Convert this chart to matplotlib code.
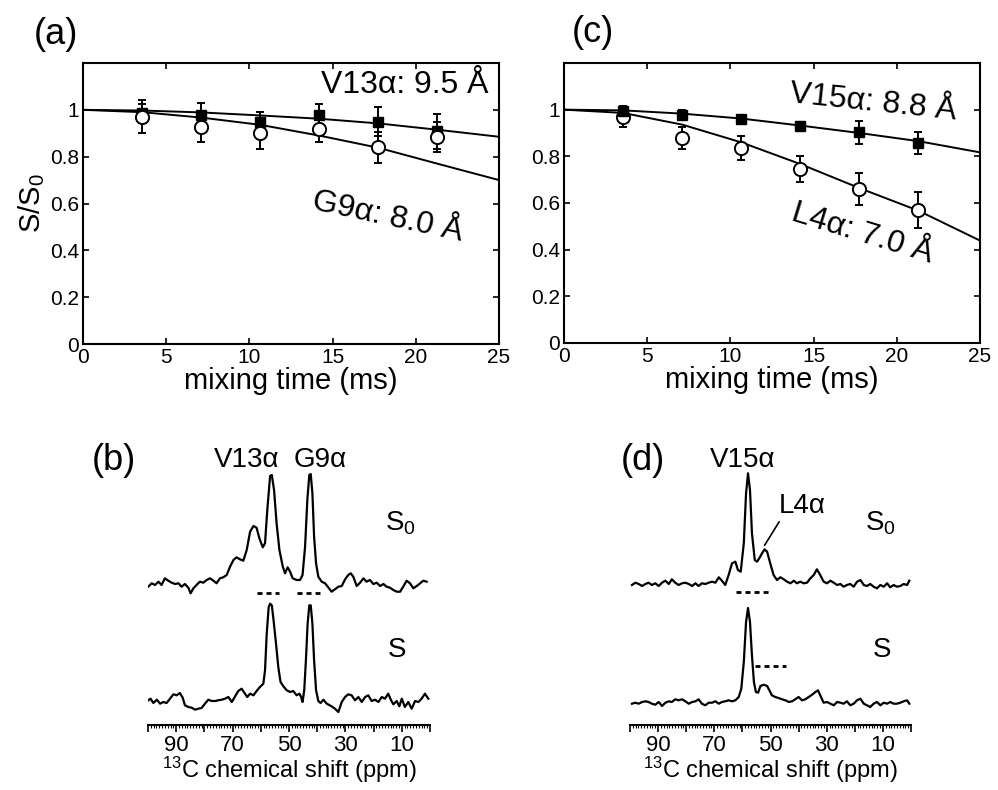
import numpy as np
import matplotlib
matplotlib.use('Agg')
import matplotlib.pyplot as plt
from matplotlib.ticker import MultipleLocator, FuncFormatter

plt.rcParams['font.family'] = ['Liberation Sans', 'DejaVu Sans']
plt.rcParams['mathtext.fontset'] = 'custom'
plt.rcParams['mathtext.rm'] = 'Liberation Sans'
plt.rcParams['mathtext.it'] = 'Liberation Sans:italic'
plt.rcParams['mathtext.default'] = 'regular'

# ---- S/S0 decay data (panels a, c)
mix_time = [3.55, 7.1, 10.65, 14.2, 17.75, 21.3]
fit_time = [0, 3.55, 7.1, 10.65, 14.2, 17.75, 21.3, 25]

v13_ss0 = [0.985, 0.98, 0.946, 0.979, 0.95, 0.908]
v13_err = [0.04, 0.05, 0.043, 0.048, 0.063, 0.074]
g9_ss0 = [0.97, 0.928, 0.899, 0.92, 0.84, 0.882]
g9_err = [0.07, 0.067, 0.067, 0.057, 0.066, 0.064]
v13_fit = [1.0, 0.997, 0.989, 0.976, 0.962, 0.942, 0.915, 0.885]
g9_fit = [1.0, 0.99, 0.967, 0.936, 0.89, 0.838, 0.77, 0.70]

v15_ss0 = [0.996, 0.979, 0.96, 0.929, 0.903, 0.856]
v15_err = [0.02, 0.02, 0.015, 0.015, 0.05, 0.048]
l4_ss0 = [0.967, 0.879, 0.836, 0.746, 0.66, 0.57]
l4_err = [0.04, 0.046, 0.053, 0.057, 0.068, 0.078]
v15_fit = [1.0, 0.997, 0.983, 0.962, 0.932, 0.9, 0.865, 0.817]
l4_fit = [1.0, 0.986, 0.936, 0.86, 0.767, 0.664, 0.567, 0.439]

# ---- 13C spectra (panel b), intensity in arbitrary units
b_s0_ppm = [99.9, 98.7, 97.5, 96.3, 95.2, 94.0, 92.8, 91.6, 90.4, 89.2,
            88.1, 86.9, 85.7, 84.9, 83.9, 82.8, 81.6, 80.4, 79.2, 78.0,
            76.8, 75.7, 74.5, 73.3, 72.1, 70.9, 69.7, 68.6, 67.4, 66.2,
            65.0, 63.8, 62.6, 61.5, 60.5, 59.3, 58.5, 57.7, 56.7, 56.1,
            55.3, 54.4, 53.4, 52.2, 51.4, 50.5, 49.6, 48.7, 47.3, 46.1,
            45.2, 44.3, 43.5, 42.8, 42.3, 41.7, 41.1, 40.4, 39.6, 38.4,
            37.2, 36.1, 34.9, 33.7, 32.5, 31.3, 30.1, 29.0, 28.1, 27.2,
            26.0, 24.8, 23.6, 22.5, 21.3, 20.1, 18.9, 17.7, 16.5, 15.4,
            14.2, 13.0, 11.8, 10.6, 9.5, 8.3, 7.1, 5.9, 4.7, 3.5,
            2.4, 1.2]
b_s0_int = [-2.7, 0.7, -1, 2.3, -1, 5.7, 3.3, 1.3, 0, 0.7,
            -2.7, 0, -3.7, -9.3, -4.3, -1, 2.3, 1.3, 4, 5.7,
            3.3, 0.7, 5.7, 6.7, 9, 17.3, 24, 26.7, 24.7, 23.3,
            34, 52.3, 58, 56.3, 45.7, 36.7, 40.7, 74, 108, 109,
            94, 60.7, 34, 17.3, 10.7, 16.7, 12.3, 5.7, 4, 4,
            9, 37.3, 84, 109, 110, 90.7, 47.3, 20.7, 7.3, 2.3,
            0.7, -3.3, -7.7, -5.3, -2.7, -2, 4.7, 9, 10.7, 7.3,
            -2, 1.3, 5.7, 2.3, 4, 0, 1.3, -2, 0, -2.7,
            -3.7, -6, -7.7, -7.7, -2.7, 3.3, 0.7, -4.3, -2, 0.7,
            3.3, 2.3]
b_s_ppm = [99.9, 99.1, 98.1, 96.9, 95.7, 94.6, 93.4, 92.2, 91.0, 89.8,
           88.7, 87.7, 86.9, 85.7, 84.5, 83.3, 82.2, 81.0, 79.8, 78.6,
           77.4, 76.2, 75.1, 73.9, 72.7, 71.5, 70.3, 69.1, 68.0, 66.8,
           65.6, 64.8, 63.8, 62.6, 61.5, 60.3, 59.1, 58.5, 57.9, 57.2,
           56.7, 56.1, 55.6, 54.6, 53.8, 53.0, 51.8, 50.8, 49.6, 48.5,
           47.3, 46.3, 45.7, 45.2, 44.6, 44.0, 43.4, 42.8, 42.3, 41.7,
           41.1, 40.4, 39.6, 38.8, 37.8, 36.6, 34.9, 33.7, 32.5, 31.3,
           30.1, 29.0, 27.8, 26.6, 25.4, 24.2, 23.0, 21.9, 20.7, 19.5,
           18.3, 17.1, 16.0, 14.8, 13.9, 13.0, 11.8, 10.9, 10.0, 8.9,
           7.7, 6.5, 5.3, 4.1, 3.0, 1.8, 0.6]
b_s_int = [1.7, 3.3, -1, 2.3, -1.7, 0, -1, 3.3, 7.7, 6.7,
           9, 4.3, -3.3, -5, -5.7, -7.7, -6.7, -6, -1.7, 2.3,
           1, 1, 1.7, 2.3, 3.3, 5, 0, 5.7, 11, 13.3,
           8.3, 5, 8.3, 6.7, 11, 15, 18.3, 31.7, 68.3, 95,
           98.3, 96.7, 85, 58.3, 35, 20, 15, 11.7, 10, 11,
           6.7, 8.3, 5, 0, 11.7, 41.7, 78.3, 96.7, 96.7, 78.3,
           41.7, 11.7, 1, -1, 2.3, -1.7, -4.3, -6.7, -10, 0,
           5, 7.7, 6.7, 1.7, 5, 0, 5, 6.7, 1, 2.3,
           0, 5, 3.3, 8.3, 2.3, -2.3, 1, -4.3, 3.3, -5,
           0, -6.7, 1, 0, 3.3, 8.3, 3.3]

# ---- 13C spectra (panel d)
d_s0_ppm = [99.3, 98.1, 96.9, 95.7, 94.5, 93.4, 92.2, 91.0, 89.8, 88.6,
            87.4, 86.2, 85.1, 83.9, 82.7, 81.5, 80.3, 79.1, 77.9, 76.7,
            75.6, 74.4, 73.2, 72.0, 70.8, 69.6, 68.4, 67.3, 66.1, 64.9,
            63.7, 62.5, 61.6, 60.6, 59.5, 58.7, 58.0, 57.3, 56.6, 55.6,
            54.8, 54.0, 53.0, 52.1, 51.2, 50.1, 48.9, 47.7, 46.5, 45.3,
            44.1, 42.9, 41.7, 40.6, 39.4, 38.2, 37.0, 35.8, 34.6, 33.5,
            32.3, 31.1, 29.9, 28.7, 27.5, 26.3, 25.1, 24.0, 22.8, 21.6,
            20.4, 19.2, 18.0, 16.8, 15.7, 14.5, 13.3, 12.1, 10.9, 9.7,
            8.5, 7.4, 6.2, 5.0, 3.8, 2.6, 1.4, 0.6]
d_s0_int = [-1, 1.3, 0, -2, 0, 1.3, -1, 0.7, -2, 1.3,
            3.3, 0, 4.7, 1.3, -1, 0.7, 1.3, 0, -2, 0.7,
            -2, 0.7, 0, 1.3, 2.3, 1.3, 6.7, 3.3, -1, 9,
            20.7, 22.3, 14, 12.3, 40.7, 90.7, 110.7, 94, 50.7, 24,
            22.3, 25.7, 30.7, 34.7, 32.3, 20.7, 9, 4, 6.7, 4.7,
            2.3, 0.7, 3.3, 0.7, 2.3, 0.7, 1.3, 5.7, 9, 14.7,
            9, 2.3, 0.7, 3.3, 1.3, -1, 0, -2.7, -1, 0,
            -2.7, 2.3, 4, -1, -2, 0, -2.7, -4.3, -1, -2.7,
            0.7, -3.3, -1, -2.7, -2, 0, -1, 3.3]
d_s_ppm = [99.3, 98.1, 96.9, 95.7, 94.5, 93.4, 92.2, 91.0, 89.8, 88.6,
           87.4, 86.2, 85.1, 83.9, 82.7, 81.5, 80.3, 79.1, 77.9, 76.7,
           75.6, 74.4, 73.2, 72.0, 70.8, 69.6, 68.4, 67.3, 66.1, 64.9,
           63.7, 62.5, 61.3, 60.4, 59.5, 58.7, 58.0, 57.3, 56.6, 55.9,
           55.2, 54.4, 53.6, 52.4, 51.2, 50.4, 49.5, 48.3, 47.1, 45.9,
           44.7, 43.5, 42.3, 41.2, 40.0, 38.8, 37.6, 36.4, 35.2, 34.0,
           33.1, 32.3, 31.1, 29.9, 28.7, 27.5, 26.3, 25.1, 24.0, 22.8,
           21.6, 20.4, 19.2, 18.0, 16.8, 15.7, 14.5, 13.3, 12.1, 10.9,
           9.7, 8.5, 7.4, 6.2, 5.0, 3.8, 2.6, 1.4, 0.6]
d_s_int = [-1.7, -0.7, -1.7, 0, 0.7, 0, -1.7, -2.7, 0, -4,
           -0.7, 0.7, 0, 2.7, 1.7, 2.7, 0.7, -1.7, 0, 0.7,
           2.7, -1.7, -3.3, -0.7, -0.7, 0.7, -1.7, 0, 0.7, 1.7,
           0.7, 1.7, 5, 13.3, 40, 80, 94, 80, 46.7, 20,
           10, 9.3, 16, 17.3, 16, 11.7, 6.7, 5, 4, 2.7,
           1.7, 0, 0.7, 2.7, 5, 1.7, 2.7, 5, 7.3, 10,
           11.7, 6.7, -0.7, 0, -1.7, -3.3, 0, -0.7, -1.7, 0.7,
           -3.3, -1.7, 1.7, 3.3, -1.7, -3.3, -5, -1.7, 0, -3.3,
           -0.7, -1.7, 0, -1.7, -1.7, -0.7, 0.7, 1.7, -1.7]

# integration ranges (ppm) shown as dotted bars, and their levels
b_s0_ranges = [(61.5, 53.4), (47.3, 39.0)]
b_s0_range_level = -9
d_s0_ranges = [(62.1, 50.7)]
d_s0_range_level = -8
d_s_ranges = [(55.5, 44.5)]
d_s_range_level = 36

S0_OFFSET = 118

fig = plt.figure(figsize=(9.98, 7.9), dpi=100)
W, H = 998.0, 790.0


def px_axes(left, top, right, bottom):
    return fig.add_axes([left / W, 1 - bottom / H, (right - left) / W, (bottom - top) / H])


ax_a = px_axes(83, 63, 499, 344)
ax_c = px_axes(564, 63, 980, 343)
ax_b = px_axes(148, 460, 430, 725)
ax_d = px_axes(630, 460, 911, 725)


def decay_panel(ax, sq, sq_err, ci, ci_err, sq_fit, ci_fit, circles_on_top, ylabel):
    ax.plot(fit_time, sq_fit, 'k-', lw=1.4, zorder=2)
    ax.plot(fit_time, ci_fit, 'k-', lw=1.4, zorder=2)
    zs, zc = (3, 4) if circles_on_top else (4, 3)
    ax.errorbar(mix_time, sq, yerr=sq_err, fmt='s', color='k', mfc='k', mec='k',
                ms=7.5, capsize=3, elinewidth=1.4, capthick=1.4, zorder=zs)
    ax.errorbar(mix_time, ci, yerr=ci_err, fmt='o', color='k', mfc='white', mec='k',
                mew=1.4, ms=9.5, capsize=3, elinewidth=1.4, capthick=1.4, zorder=zc)
    ax.set_xlim(0, 25)
    ax.set_ylim(0, 1.2)
    ax.set_xticks([0, 5, 10, 15, 20, 25])
    ax.set_yticks([0, 0.2, 0.4, 0.6, 0.8, 1])
    ax.set_yticklabels(['0', '0.2', '0.4', '0.6', '0.8', '1'])
    ax.tick_params(direction='in', top=True, right=True, labelsize=15,
                   length=4, width=1.2, pad=3)
    for s in ax.spines.values():
        s.set_linewidth(1.5)
    ax.set_xlabel('mixing time (ms)', fontsize=21, labelpad=0)
    if ylabel:
        ax.set_ylabel('S/S$_0$', fontsize=21, labelpad=2)


decay_panel(ax_a, v13_ss0, v13_err, g9_ss0, g9_err, v13_fit, g9_fit, True, True)
decay_panel(ax_c, v15_ss0, v15_err, l4_ss0, l4_err, v15_fit, l4_fit, False, False)

ax_a.text(19.35, 1.106, 'V13α: 9.5 Å', fontsize=23, ha='center', va='center')
ax_a.text(18.3, 0.54, 'G9α: 8.0 Å', fontsize=23, ha='center', va='center',
          rotation=-12, rotation_mode='anchor')
ax_c.text(18.6, 1.03, 'V15α: 8.8 Å', fontsize=23, ha='center', va='center',
          rotation=-6, rotation_mode='anchor')
ax_c.text(17.9, 0.47, 'L4α: 7.0 Å', fontsize=23, ha='center', va='center',
          rotation=-17, rotation_mode='anchor')


def fmt_ppm(v, pos):
    return '%d' % v if int(round(v)) % 20 == 10 else ''


def spectrum_panel(ax, s0_ppm, s0_int, s_ppm, s_int):
    ax.plot(s0_ppm, np.array(s0_int) + S0_OFFSET, 'k-', lw=1.6)
    ax.plot(s_ppm, s_int, 'k-', lw=1.6)
    ax.set_xlim(100, 0)
    ax.set_ylim(-23, 242)
    for side in ['left', 'top', 'right']:
        ax.spines[side].set_visible(False)
    ax.spines['bottom'].set_linewidth(1.5)
    ax.set_yticks([])
    ax.xaxis.set_major_locator(MultipleLocator(10))
    ax.xaxis.set_minor_locator(MultipleLocator(1))
    ax.xaxis.set_major_formatter(FuncFormatter(fmt_ppm))
    ax.tick_params(which='major', direction='out', length=5, width=1.2,
                   labelsize=16, pad=2)
    ax.tick_params(which='minor', direction='out', length=2.5, width=0.8)
    ax.set_xlabel('$^{13}$C chemical shift (ppm)', fontsize=17, labelpad=-1)
    ax.patch.set_alpha(0)


def dotted(ax, ranges, level):
    for a, b in ranges:
        ax.plot([a, b], [level, level], color='k', lw=2,
                linestyle=(0, (1.8, 1.45)), solid_capstyle='butt', dash_capstyle='butt')


spectrum_panel(ax_b, b_s0_ppm, b_s0_int, b_s_ppm, b_s_int)
spectrum_panel(ax_d, d_s0_ppm, d_s0_int, d_s_ppm, d_s_int)
dotted(ax_b, b_s0_ranges, S0_OFFSET + b_s0_range_level)
dotted(ax_d, d_s0_ranges, S0_OFFSET + d_s0_range_level)
dotted(ax_d, d_s_ranges, d_s_range_level)

# L4alpha label with leader line to its peak
l4_peak = d_s0_ppm[int(np.argmax(d_s0_int[40:50])) + 40]
ax_d.annotate('L4α', xy=(l4_peak, S0_OFFSET + max(d_s0_int[40:50]) + 4),
              xytext=(38.8, 196), textcoords='data', ha='center', va='center',
              fontsize=20,
              arrowprops=dict(arrowstyle='-', color='k', lw=1.2,
                              relpos=(0.05, 0.0), shrinkA=0, shrinkB=0))

# panel letters and spectrum labels (figure pixel positions)
def ftext(x, y, s, size):
    fig.text(x / W, 1 - y / H, s, fontsize=size, ha='center', va='center')


ftext(56, 35, '(a)', 26)
ftext(593, 33, '(c)', 26)
ftext(114, 460, '(b)', 26)
ftext(643, 460, '(d)', 26)
ftext(247, 460, 'V13α', 20)
ftext(320, 460, 'G9α', 20)
ftext(400, 523, 'S$_0$', 20)
ftext(397, 650, 'S', 20)
ftext(743, 460, 'V15α', 20)
ftext(880, 523, 'S$_0$', 20)
ftext(882, 650, 'S', 20)

fig.savefig('out.png', dpi=100)
